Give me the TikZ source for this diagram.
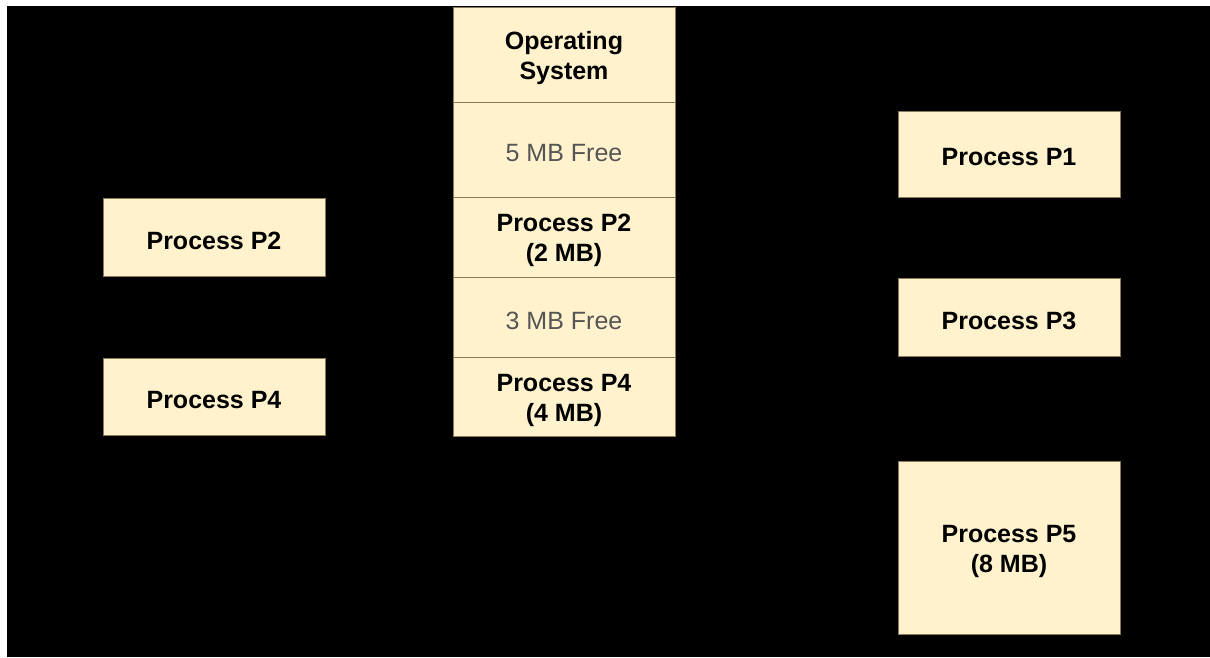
\documentclass[tikz,border=0pt]{standalone}
\usepackage{fontspec}
\setmainfont{Liberation Sans}
\definecolor{cellfill}{HTML}{FFF2CC}
\definecolor{celldraw}{HTML}{8A7A58}
\definecolor{freetext}{HTML}{555555}
\begin{document}
\begin{tikzpicture}[x=1pt,y=-1pt,
  cell/.style={draw=celldraw,fill=cellfill,line width=1pt,rectangle,inner sep=0pt},
  celltext/.style={inner sep=0pt,align=center,font=\fontsize{25}{30}\selectfont\bfseries,text=black},
  freetxt/.style={celltext,font=\fontsize{25}{30}\selectfont,text=freetext}]
% canvas
\useasboundingbox (0,0) rectangle (1210,657);
\fill[white] (0,0) rectangle (1210,657);
\fill[black] (7,6) rectangle (1210,657);

% memory layout column
\node[cell,minimum width=222pt,minimum height=95pt] (os) at (564,54.5) {};
\node[cell,minimum width=222pt,minimum height=95pt] (free5) at (564,149.5) {};
\node[cell,minimum width=222pt,minimum height=80pt] (mp2) at (564,237) {};
\node[cell,minimum width=222pt,minimum height=80pt] (free3) at (564,317) {};
\node[cell,minimum width=222pt,minimum height=79pt] (mp4) at (564,396.5) {};

% left-hand processes
\node[cell,minimum width=222pt,minimum height=78pt] (lp2) at (214,237) {};
\node[cell,minimum width=222pt,minimum height=77pt] (lp4) at (214,396.5) {};

% right-hand processes
\node[cell,minimum width=222pt,minimum height=86pt] (rp1) at (1009,154) {};
\node[cell,minimum width=222pt,minimum height=78pt] (rp3) at (1009,317) {};
\node[cell,minimum width=222pt,minimum height=173pt] (rp5) at (1009,547.5) {};

% labels, set slightly below each box centre
\node[celltext] (tos) at ([yshift=-3.5pt]os.center) {Operating\\System};
\node[freetxt] (tfree5) at ([yshift=-3.5pt]free5.center) {5 MB Free};
\node[celltext] (tmp2) at ([yshift=-3.5pt]mp2.center) {Process P2\\(2 MB)};
\node[freetxt] (tfree3) at ([yshift=-3.5pt]free3.center) {3 MB Free};
\node[celltext] (tmp4) at ([yshift=-3.5pt]mp4.center) {Process P4\\(4 MB)};
\node[celltext] (tlp2) at ([yshift=-3.5pt]lp2.center) {Process P2};
\node[celltext] (tlp4) at ([yshift=-3.5pt]lp4.center) {Process P4};
\node[celltext] (trp1) at ([yshift=-3.5pt]rp1.center) {Process P1};
\node[celltext] (trp3) at ([yshift=-3.5pt]rp3.center) {Process P3};
\node[celltext] (trp5) at ([yshift=-3.5pt]rp5.center) {Process P5\\(8 MB)};
\end{tikzpicture}
\end{document}
